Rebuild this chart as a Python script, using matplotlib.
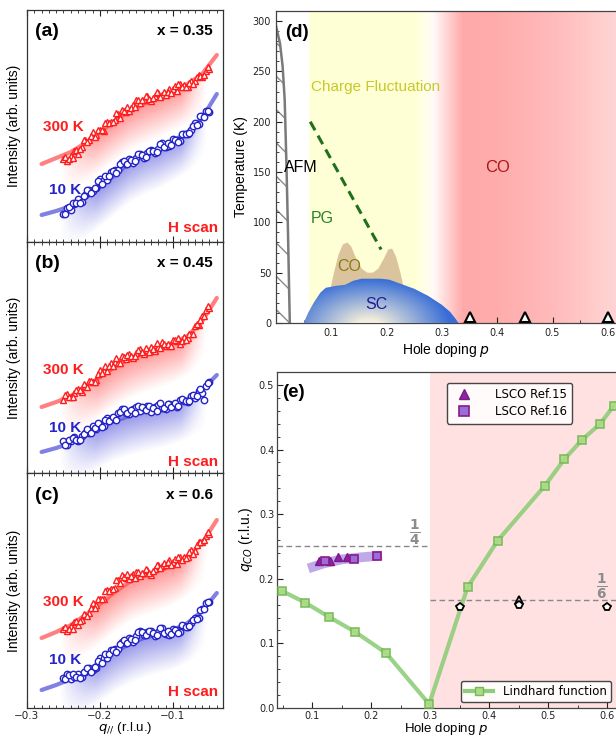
import numpy as np
import matplotlib
matplotlib.use("Agg")
import matplotlib.pyplot as plt
from matplotlib.patches import Polygon
from matplotlib.lines import Line2D
from matplotlib.ticker import MultipleLocator, FormatStrFormatter
from matplotlib.transforms import ScaledTranslation

plt.rcParams['font.family'] = ['DejaVu Sans']
plt.rcParams['hatch.linewidth'] = 1.0
LAB = 'Liberation Sans'

# ---------------- data: left panels (H scans) ----------------
q_scan = [-0.250, -0.245, -0.240, -0.235, -0.230, -0.225, -0.220, -0.215, -0.210, -0.205,
          -0.200, -0.195, -0.190, -0.185, -0.180, -0.175, -0.170, -0.165, -0.160, -0.155,
          -0.150, -0.145, -0.140, -0.135, -0.130, -0.125, -0.120, -0.115, -0.110, -0.105,
          -0.100, -0.095, -0.090, -0.085, -0.080, -0.075, -0.070, -0.065, -0.060, -0.055,
          -0.050]
q_scan_b = [-0.2475, -0.2425, -0.2375, -0.2325, -0.2275, -0.2225, -0.2175, -0.2125, -0.2075, -0.2025,
            -0.1975, -0.1925, -0.1875, -0.1825, -0.1775, -0.1725, -0.1675, -0.1625, -0.1575, -0.1525,
            -0.1475, -0.1425, -0.1375, -0.1325, -0.1275, -0.1225, -0.1175, -0.1125, -0.1075, -0.1025,
            -0.0975, -0.0925, -0.0875, -0.0825, -0.0775, -0.0725, -0.0675, -0.0625, -0.0575, -0.0525]

a_300K = [83, 81, 86, 91, 88, 95, 102, 102, 110, 107, 112, 111, 120, 120, 122, 128, 132, 130, 131, 137,
          142, 139, 142, 146, 141, 146, 149, 147, 147, 153, 153, 151, 158, 157, 155, 161, 161, 167, 165, 171, 173]
a_300K_b = [85, 83, 84, 92, 93, 102, 100, 106, 105, 112, 112, 119, 119, 120, 129, 124, 131, 135, 134, 135,
            142, 142, 146, 143, 144, 150, 145, 150, 150, 149, 156, 158, 155, 155, 159, 158, 165, 166, 167, 175]
a_10K = [28, 34, 32, 38, 43, 40, 47, 52, 51, 54, 63, 62, 62, 70, 72, 72, 80, 78, 83, 79,
         84, 88, 84, 89, 92, 89, 93, 99, 95, 96, 103, 102, 101, 108, 108, 112, 119, 118, 126, 131, 130]
a_10K_b = [28, 35, 39, 39, 39, 46, 52, 49, 54, 61, 58, 66, 66, 71, 69, 78, 81, 78, 82, 81,
           88, 87, 85, 91, 91, 90, 98, 95, 99, 97, 102, 100, 108, 108, 109, 116, 117, 126, 125, 131]
b_300K = [73, 79, 76, 80, 84, 81, 87, 92, 91, 93, 103, 102, 102, 110, 111, 110, 117, 114, 119, 115,
          120, 124, 119, 123, 126, 122, 126, 131, 127, 127, 133, 132, 129, 136, 135, 139, 147, 148, 157, 163, 165]
b_300K_b = [78, 76, 76, 83, 83, 89, 86, 92, 91, 99, 100, 107, 107, 107, 115, 110, 116, 118, 117, 117,
            123, 121, 125, 121, 124, 130, 125, 129, 129, 127, 133, 135, 132, 133, 139, 139, 149, 153, 157, 167]
b_10K = [32, 28, 32, 36, 32, 37, 40, 40, 47, 44, 49, 47, 55, 54, 54, 60, 64, 60, 59, 64,
         66, 62, 65, 67, 61, 66, 68, 65, 64, 69, 68, 66, 73, 72, 71, 77, 75, 82, 80, 87, 91]
b_10K_b = [28, 33, 35, 33, 33, 39, 44, 40, 45, 50, 46, 53, 52, 56, 53, 61, 64, 60, 63, 60,
           67, 66, 63, 67, 65, 62, 70, 65, 69, 66, 70, 67, 74, 72, 72, 78, 77, 84, 73, 90]
c_300K = [79, 77, 82, 86, 83, 88, 93, 95, 105, 103, 109, 109, 118, 119, 120, 128, 133, 130, 129, 134,
          136, 132, 135, 138, 133, 139, 143, 142, 143, 148, 146, 144, 151, 151, 151, 158, 157, 166, 166, 172, 174]
c_300K_b = [81, 79, 79, 87, 87, 94, 92, 100, 100, 109, 109, 117, 117, 119, 128, 125, 131, 134, 132, 130,
            136, 135, 139, 135, 137, 143, 140, 145, 146, 143, 149, 151, 148, 150, 156, 154, 163, 166, 168, 176]
c_10K = [30, 34, 29, 31, 34, 31, 36, 40, 38, 40, 50, 50, 50, 58, 59, 59, 66, 65, 70, 66,
         72, 77, 73, 76, 77, 72, 76, 80, 74, 73, 79, 78, 76, 82, 81, 85, 90, 90, 99, 105, 106]
c_10K_b = [29, 33, 34, 31, 30, 36, 40, 36, 41, 47, 45, 54, 54, 58, 56, 64, 68, 65, 69, 68,
           76, 76, 73, 77, 75, 73, 80, 75, 77, 74, 78, 75, 83, 81, 82, 88, 89, 98, 99, 106]

q_fit = [-0.28, -0.26, -0.24, -0.22, -0.20, -0.18, -0.16, -0.14, -0.12, -0.10, -0.08, -0.06, -0.04]
a_fit300 = [78, 84, 90, 99, 110, 121, 131, 138, 144, 151, 158, 168, 187]
a_fit10 = [27, 31, 36, 44, 55, 67, 79, 87, 93, 101, 110, 124, 148]
b_fit300 = [66, 71, 77, 86, 96, 106, 114, 120, 125, 130, 137, 152, 175]
b_fit10 = [21, 25, 30, 37, 45, 52, 57, 61, 64, 68, 74, 83, 98]
c_fit300 = [70, 76, 83, 93, 104, 116, 126, 132, 137, 143, 152, 165, 188]
c_fit10 = [18, 23, 29, 36, 46, 56, 64, 70, 74, 78, 85, 97, 115]

panel_tags = ['(a)', '(b)', '(c)']
dopings = ['x = 0.35', 'x = 0.45', 'x = 0.6']

# ---------------- data: phase diagram (d) ----------------
afm_T = [0, 25, 90, 155, 222, 255, 278, 295]
afm_p = [0.025, 0.024, 0.0217, 0.019, 0.0157, 0.012, 0.0072, 0.0]
co_p = [0.088, 0.095, 0.104, 0.113, 0.121, 0.129, 0.136, 0.145, 0.155, 0.165, 0.175, 0.185,
        0.195, 0.203, 0.210, 0.217, 0.225, 0.233, 0.241, 0.248]
co_T = [0, 25, 48, 68, 78, 80, 76, 64, 54, 50, 50, 54, 64, 73, 74, 66, 50, 30, 12, 0]
sc_p = [0.050, 0.058, 0.068, 0.080, 0.090, 0.110, 0.125, 0.140, 0.155, 0.190, 0.205, 0.225,
        0.250, 0.275, 0.300, 0.315, 0.325, 0.330]
sc_T = [0, 10, 20, 30, 35, 37, 38, 42, 44, 44, 43, 39, 34, 27, 18, 11, 4, 0]
pg_p = [0.062, 0.19]
pg_T = [200, 73]
meas_p = [0.35, 0.45, 0.6]
meas_T = [0, 0, 0]

# ---------------- data: wave vector (e) ----------------
lind_p = [0.049, 0.088, 0.128, 0.173, 0.225, 0.298, 0.363, 0.414, 0.494, 0.527, 0.557, 0.588, 0.611]
lind_q = [0.181, 0.163, 0.141, 0.1175, 0.085, 0.006, 0.187, 0.259, 0.344, 0.385, 0.415, 0.440, 0.468]
ref15_p = [0.112, 0.130, 0.143, 0.159]
ref15_q = [0.227, 0.227, 0.2335, 0.2335]
ref16_p = [0.121, 0.170, 0.210]
ref16_q = [0.227, 0.231, 0.236]
band_p = [0.093, 0.12, 0.15, 0.18, 0.218]
band_q = [0.216, 0.224, 0.230, 0.233, 0.236]
this_p = [0.35, 0.45, 0.6]
this_q = [0.157, 0.160, 0.157]
extra45_p = [0.45]
extra45_q = [0.167]

fig = plt.figure(figsize=(6.16, 7.38), dpi=100)


def px_axes(l, t, r, b):
    return fig.add_axes([l / 616, 1 - b / 738, (r - l) / 616, (b - t) / 738])


def grad_fill(ax, qc, Ic, rgb, top, depth=40, amax=0.55, q0=-0.255, q1=-0.055):
    qq = np.linspace(qc[0], qc[-1], 400)
    yy = np.linspace(0, top, 300)
    cv = np.interp(qq, qc, Ic)
    d = cv[None, :] - yy[:, None]
    a = np.clip(1 - d / depth, 0, 1) * (d >= 0)
    env = np.clip((qq - q0) / 0.05, 0, 1) * np.clip((q1 - qq) / 0.035, 0, 1)
    a = a * env[None, :] * amax
    img = np.zeros((len(yy), len(qq), 4))
    img[..., 0], img[..., 1], img[..., 2] = rgb
    img[..., 3] = a
    ax.imshow(img, extent=[qq[0], qq[-1], 0, top], origin='lower', aspect='auto',
              zorder=1, interpolation='bilinear')


left_px = [(10, 242), (242, 473), (473, 708)]
data300 = [a_300K, b_300K, c_300K]
data300b = [a_300K_b, b_300K_b, c_300K_b]
data10 = [a_10K, b_10K, c_10K]
data10b = [a_10K_b, b_10K_b, c_10K_b]
fit300 = [a_fit300, b_fit300, c_fit300]
fit10 = [a_fit10, b_fit10, c_fit10]
lab300_I = [115, 103, 106]
lab10_I = [52, 45, 48]
hscan_I = [14, 11, 16]
tag_I = [211, 210, 213]

RED = '#ff1c1c'
BLUE = '#2424c8'
for i in range(3):
    t, b = left_px[i]
    ax = px_axes(27, t, 223, b)
    top = b - t
    ax.set_xlim(-0.3, -0.0315)
    ax.set_ylim(0, top)
    grad_fill(ax, q_fit, fit300[i], (1.0, 0.25, 0.25), top)
    grad_fill(ax, q_fit, fit10[i], (0.25, 0.25, 0.85), top)
    ax.plot(q_fit, fit300[i], color='#ff4a4a', lw=3, alpha=0.7, zorder=2, solid_capstyle='round')
    ax.plot(q_fit, fit10[i], color='#4c4cd8', lw=3, alpha=0.7, zorder=2, solid_capstyle='round')
    for qs, ys in ((q_scan, data300[i]), (q_scan_b, data300b[i])):
        ax.plot(qs, ys, '^', ls='none', ms=4.3, mfc='white', mec=RED, mew=1.0, zorder=3)
    for qs, ys in ((q_scan, data10[i]), (q_scan_b, data10b[i])):
        ax.plot(qs, ys, 'o', ls='none', ms=4.6, mfc='white', mec=BLUE, mew=1.0, zorder=3)
    ax.text(-0.289, tag_I[i], panel_tags[i], fontsize=14, fontweight='bold', family=LAB,
            ha='left', va='center')
    ax.text(-0.0452, tag_I[i], dopings[i], fontsize=11, fontweight='bold', family=LAB,
            ha='right', va='center')
    ax.text(-0.2507, lab300_I[i], '300 K', fontsize=11, fontweight='bold', family=LAB,
            color=RED, ha='center', va='center', zorder=4)
    ax.text(-0.248, lab10_I[i], '10 K', fontsize=11, fontweight='bold', family=LAB,
            color=BLUE, ha='center', va='center', zorder=4)
    ax.text(-0.0384, hscan_I[i], 'H scan', fontsize=11, fontweight='bold', family=LAB,
            color=RED, ha='right', va='center')
    ax.set_yticks([])
    ax.xaxis.set_major_locator(MultipleLocator(0.1))
    ax.xaxis.set_minor_locator(MultipleLocator(0.01))
    ax.tick_params(axis='x', which='both', direction='in', top=True, bottom=True,
                   labelsize=7.5, colors='#222222', pad=2)
    ax.tick_params(axis='x', which='major', length=4)
    ax.tick_params(axis='x', which='minor', length=2)
    for s in ax.spines.values():
        s.set_color('#333333')
        s.set_linewidth(0.9)
    ax.set_ylabel('Intensity (arb. units)', fontsize=10, family=LAB, labelpad=4)
    if i < 2:
        ax.tick_params(axis='x', labelbottom=False)
    else:
        ax.set_xlabel(r'$q_{//}$ (r.l.u.)', fontsize=9.5, family=LAB, labelpad=0)

# ---------------- panel (d) ----------------
axd = px_axes(276, 11, 616, 323)
axd.set_xlim(0, 0.6148)
axd.set_ylim(0, 310)

bg_p = [0.0, 0.0599, 0.06, 0.252, 0.272, 0.285, 0.338, 0.40, 0.50, 0.62]
bg_G = [255, 255, 255, 255, 255, 250, 170, 172, 186, 214]
bg_B = [255, 255, 214, 214, 236, 248, 170, 172, 186, 214]
pp = np.linspace(0, 0.62, 800)
img = np.ones((2, len(pp), 3))
img[:, :, 1] = np.interp(pp, bg_p, bg_G)[None, :] / 255
img[:, :, 2] = np.interp(pp, bg_p, bg_B)[None, :] / 255
axd.imshow(img, extent=[0, 0.62, 0, 310], origin='lower', aspect='auto', zorder=0,
           interpolation='bilinear')

axd.fill_betweenx(afm_T, 0, afm_p, facecolor='none', edgecolor='#8a8a8a', hatch='\\',
                  linewidth=0, zorder=1)
axd.plot(afm_p, afm_T, color='#7a7a7a', lw=1.8, zorder=2)

co_poly = Polygon(list(zip(co_p, co_T)), closed=True, fc='#dbc49d', ec='none', zorder=2)
axd.add_patch(co_poly)

sc_poly = Polygon(list(zip(sc_p, sc_T)), closed=True, fc='none', ec='none', zorder=3)
axd.add_patch(sc_poly)
gp = np.linspace(0.04, 0.34, 300)
gT = np.linspace(0, 46, 200)
P, T = np.meshgrid(gp, gT)
dd = np.sqrt(((P - 0.168) / 0.155) ** 2 + ((T + 4) / 50) ** 2)
tt = np.clip((dd - 0.15) / 0.8, 0, 1)[..., None]
pale = np.array([0.95, 0.93, 0.86])
blue = np.array([0.22, 0.43, 0.84])
gimg = pale * (1 - tt) + blue * tt
im = axd.imshow(gimg, extent=[0.04, 0.34, 0, 46], origin='lower', aspect='auto', zorder=3,
                interpolation='bilinear')
im.set_clip_path(sc_poly)

axd.plot(pg_p, pg_T, color='#1f6f1f', lw=2.2, ls=(0, (3.2, 2.0)), zorder=4)

off = ScaledTranslation(0, 4.5 / 72, fig.dpi_scale_trans)
axd.plot(meas_p, meas_T, '^', ls='none', ms=7, mfc='white', mec='black', mew=1.5,
         clip_on=False, zorder=6, transform=axd.transData + off)

axd.text(0.064, 234, 'Charge Fluctuation', color='#c8c82a', fontsize=11, family=LAB,
         ha='left', va='center', zorder=5)
axd.text(0.0145, 155, 'AFM', color='black', fontsize=11.5, family=LAB, ha='left',
         va='center', zorder=5)
axd.text(0.062, 104, 'PG', color='#2a832a', fontsize=11.5, family=LAB, ha='left',
         va='center', zorder=5)
axd.text(0.133, 56, 'CO', color='#8a7b14', fontsize=11.5, family=LAB, ha='center',
         va='center', zorder=5)
axd.text(0.181, 18, 'SC', color='#1c1c96', fontsize=11.5, family=LAB, ha='center',
         va='center', zorder=5)
axd.text(0.40, 155, 'CO', color='#a81818', fontsize=12, family=LAB, ha='center',
         va='center', zorder=5)
axd.text(0.016, 289, '(d)', fontsize=13.5, fontweight='bold', family=LAB, ha='left',
         va='center', zorder=5)

axd.set_xticks([0.1, 0.2, 0.3, 0.4, 0.5, 0.6])
axd.xaxis.set_minor_locator(MultipleLocator(0.05))
axd.yaxis.set_major_locator(MultipleLocator(50))
axd.yaxis.set_minor_locator(MultipleLocator(10))
axd.tick_params(which='both', direction='in', labelsize=7, colors='#222222')
axd.tick_params(which='major', length=4)
axd.tick_params(which='minor', length=2)
axd.spines['right'].set_visible(False)
for s in ['left', 'bottom', 'top']:
    axd.spines[s].set_color('#444444')
    axd.spines[s].set_linewidth(0.9)
axd.set_xlabel(r'Hole doping $p$', fontsize=10, family=LAB, labelpad=2)
axd.set_ylabel('Temperature (K)', fontsize=10, family=LAB, labelpad=3)

# ---------------- panel (e) ----------------
axe = px_axes(277, 372, 616, 708)
axe.set_xlim(0.04, 0.6146)
axe.set_ylim(0, 0.52)
axe.axvspan(0.3, 0.7, color='#ffe1e1', lw=0, zorder=0)
axe.plot([0.04, 0.3], [0.25, 0.25], color='#888888', lw=1.0, ls=(0, (4, 2.5)), zorder=1)
axe.plot([0.3, 0.7], [1 / 6, 1 / 6], color='#888888', lw=1.0, ls=(0, (4, 2.5)), zorder=1)
axe.text(0.273, 0.271, r'$\frac{\mathbf{1}}{\mathbf{4}}$', color='#8c8c8c', fontsize=14,
         ha='center', va='center')
axe.text(0.591, 0.188, r'$\frac{\mathbf{1}}{\mathbf{6}}$', color='#8c8c8c', fontsize=14,
         ha='center', va='center')

axe.plot(band_p, band_q, color='#b49ae6', lw=7, alpha=0.85, solid_capstyle='butt', zorder=2)
axe.plot(lind_p, lind_q, '-s', color='#8fcd7a', lw=3, alpha=0.9, ms=5.5, mfc='#acdb86',
         mec='#74b956', mew=1.2, zorder=3, clip_on=False)
axe.plot(ref15_p, ref15_q, '^', ls='none', ms=5.5, mfc='#8e22a0', mec='#7a1a8a', mew=1,
         zorder=4)
axe.plot(ref16_p, ref16_q, 's', ls='none', ms=6, mfc='#9b6dd6', mec='#8a1a8c', mew=1.2,
         zorder=4)
axe.plot(extra45_p, extra45_q, '^', ls='none', ms=5.5, mfc='white', mec='black', mew=1.3,
         zorder=5)
axe.plot(this_p, this_q, 'p', ls='none', ms=6, mfc='white', mec='black', mew=1.3, zorder=6)

axe.text(0.049, 0.488, '(e)', fontsize=13.5, fontweight='bold', family=LAB, ha='left',
         va='center', zorder=5)

h1 = [Line2D([], [], marker='^', ls='none', ms=7, mfc='#8e22a0', mec='#7a1a8a'),
      Line2D([], [], marker='s', ls='none', ms=7, mfc='#9b6dd6', mec='#8a1a8c', mew=1.2)]
leg1 = axe.legend(h1, ['LSCO Ref.15', 'LSCO Ref.16'], loc='upper left',
                  bbox_to_anchor=(447 / 616, 1 - 383 / 738), bbox_transform=fig.transFigure,
                  fontsize=8.5, frameon=True, fancybox=True, edgecolor='#333333',
                  framealpha=0.9, handletextpad=1.6, borderpad=0.45, labelspacing=0.35,
                  borderaxespad=0)
axe.add_artist(leg1)
h2 = [Line2D([], [], color='#8fcd7a', lw=3, marker='s', ms=5.5, mfc='#acdb86', mec='#74b956')]
axe.legend(h2, ['Lindhard function'], loc='lower left',
           bbox_to_anchor=(461 / 616, 1 - 702 / 738), bbox_transform=fig.transFigure,
           fontsize=8.5, frameon=True, fancybox=True, edgecolor='#333333', framealpha=0.9,
           handlelength=2.4, borderpad=0.35, borderaxespad=0)

axe.set_xticks([0.1, 0.2, 0.3, 0.4, 0.5, 0.6])
axe.xaxis.set_minor_locator(MultipleLocator(0.05))
axe.yaxis.set_major_locator(MultipleLocator(0.1))
axe.yaxis.set_minor_locator(MultipleLocator(0.02))
axe.yaxis.set_major_formatter(FormatStrFormatter('%.1f'))
axe.tick_params(which='both', direction='in', labelsize=7, colors='#222222', pad=2)
axe.tick_params(which='major', length=4)
axe.tick_params(which='minor', length=2)
axe.spines['right'].set_visible(False)
for s in ['left', 'bottom', 'top']:
    axe.spines[s].set_color('#444444')
    axe.spines[s].set_linewidth(0.9)
axe.set_xlabel(r'Hole doping $p$', fontsize=9.5, family=LAB, labelpad=0)
axe.set_ylabel(r'$q_{CO}$ (r.l.u.)', fontsize=10, family=LAB, labelpad=3)

fig.savefig('out.png', dpi=100)
